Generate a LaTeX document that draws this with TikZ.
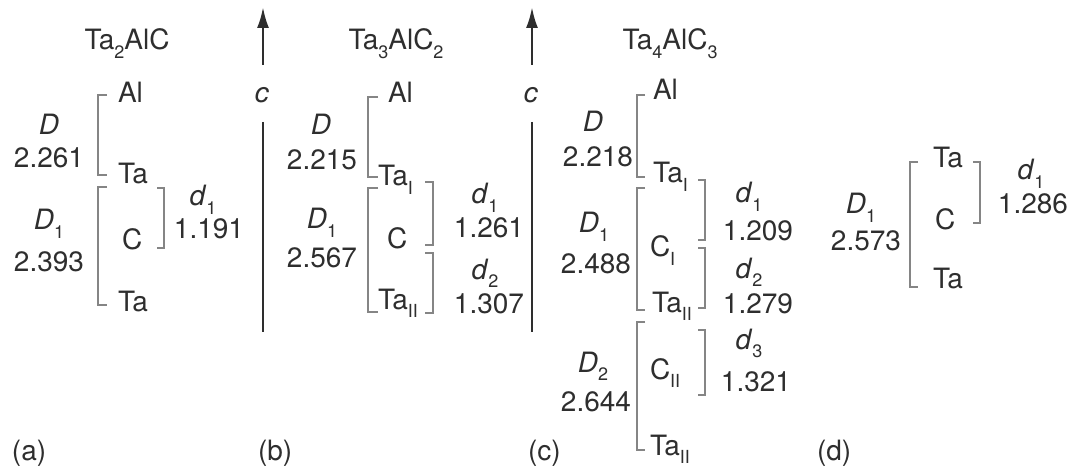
\documentclass[tikz,border=0pt]{standalone}
\usepackage{fontspec}
\setmainfont{TeX Gyre Heros}
\usetikzlibrary{arrows.meta}
\definecolor{ink}{HTML}{2E2E2E}
\definecolor{brk}{HTML}{858585}
% lowered small index for chemical formulas and site labels
\newcommand{\sbs}[1]{\raisebox{-0.30em}{\fontsize{18}{18}\selectfont #1}}
\begin{document}
\begin{tikzpicture}[x=1pt,y=-1pt,
  every node/.style={inner sep=0pt, outer sep=0pt, text=ink, font=\fontsize{28}{30}\selectfont},
  atom/.style={anchor=base west},
  lab/.style={anchor=base},
  num/.style={anchor=base east},
  bracket/.style={draw=brk, line width=2.3pt},
  axisline/.style={draw=ink, line width=2.6pt},
  axisarrow/.style={draw=ink, line width=2.6pt, -{Latex[length=21pt,width=12pt]}}]
\useasboundingbox (0,0) rectangle (1078,470);

% ---------- (a) Ta2AlC ----------
\node[lab] (titA) at (127,50) {Ta\sbs{2}AlC};
\node[atom] (aAl)  at (118,103) {Al};
\node[atom] (aTa1) at (118,184) {Ta};
\node[atom] (aC)   at (122,250) {C};
\node[atom] (aTa2) at (118,311) {Ta};
\node[lab] (aD)    at (49,135) {\textit{D}};
\node[num] (aDv)   at (84,168) {2.261};
\node[lab] (aD1)   at (49,230) {\textit{D}\sbs{1}};
\node[num] (aD1v)  at (84,272) {2.393};
\node[lab] (ad1)   at (203,206) {\textit{d}\sbs{1}};
\node[num] (ad1v)  at (244,239) {1.191};
\draw[bracket] (107,95) -- (98,95) -- (98,175) -- (107,175);
\draw[bracket] (107,187) -- (98,187) -- (98,305) -- (107,305);
\draw[bracket] (157,188) -- (164,188) -- (164,248) -- (157,248);

% ---------- c axis between (a) and (b) ----------
\node[lab] (cA) at (262,103) {\textit{c}};
\coordinate (cAtop) at (263,7);
\coordinate (cAbot) at (263,65);
\draw[axisarrow] (cAbot) -- (cAtop);
\coordinate (lAtop) at (263,122);
\coordinate (lAbot) at (263,332);
\draw[axisline] (lAtop) -- (lAbot);

% ---------- (b) Ta3AlC2 ----------
\node[lab] (titB) at (396,50) {Ta\sbs{3}AlC\sbs{2}};
\node[atom] (bAl)   at (388,103) {Al};
\node[atom] (bTa1)  at (378,186) {Ta\sbs{I}};
\node[atom] (bC)    at (387,248) {C};
\node[atom] (bTa2)  at (378,309) {Ta\sbs{II}};
\node[lab] (bD)     at (321,135) {\textit{D}};
\node[num] (bDv)    at (357,170) {2.215};
\node[lab] (bD1)    at (322,229) {\textit{D}\sbs{1}};
\node[num] (bD1v)   at (357,268) {2.567};
\node[lab] (bd1)    at (485,204) {\textit{d}\sbs{1}};
\node[num] (bd1v)   at (524,238) {1.261};
\node[lab] (bd2)    at (485,279) {\textit{d}\sbs{2}};
\node[num] (bd2v)   at (524,313) {1.307};
\draw[bracket] (378,97) -- (368,97) -- (368,177) -- (378,177);
\draw[bracket] (378,188) -- (368,188) -- (368,312) -- (378,312);
\draw[bracket] (425,182) -- (433,182) -- (433,245) -- (425,245);
\draw[bracket] (425,253) -- (433,253) -- (433,313) -- (425,313);

% ---------- c axis between (b) and (c) ----------
\node[lab] (cB) at (531,103) {\textit{c}};
\coordinate (cBtop) at (532,7);
\coordinate (cBbot) at (532,65);
\draw[axisarrow] (cBbot) -- (cBtop);
\coordinate (lBtop) at (532,122);
\coordinate (lBbot) at (532,332);
\draw[axisline] (lBtop) -- (lBbot);

% ---------- (c) Ta4AlC3 ----------
\node[lab] (titC) at (670,50) {Ta\sbs{4}AlC\sbs{3}};
\node[atom] (cAl)   at (653,100) {Al};
\node[atom] (cTa1)  at (653,183) {Ta\sbs{I}};
\node[atom] (cC1)   at (650,257) {C\sbs{I}};
\node[atom] (cTa2)  at (652,312) {Ta\sbs{II}};
\node[atom] (cC2)   at (650,379) {C\sbs{II}};
\node[atom] (cTa3)  at (650,455) {Ta\sbs{II}};
\node[lab] (cD)     at (593,132) {\textit{D}};
\node[num] (cDv)    at (633,167) {2.218};
\node[lab] (cD1)    at (594,233) {\textit{D}\sbs{1}};
\node[num] (cD1v)   at (631,273) {2.488};
\node[lab] (cD2)    at (593,372) {\textit{D}\sbs{2}};
\node[num] (cD2v)   at (631,411) {2.644};
\node[lab] (cd1)    at (749,203) {\textit{d}\sbs{1}};
\node[num] (cd1v)   at (793,241) {1.209};
\node[lab] (cd2)    at (749,278) {\textit{d}\sbs{2}};
\node[num] (cd2v)   at (793,313) {1.279};
\node[lab] (cd3)    at (749,349) {\textit{d}\sbs{3}};
\node[num] (cd3v)   at (791,391) {1.321};
\draw[bracket] (645,95) -- (637,95) -- (637,177) -- (645,177);
\draw[bracket] (645,188) -- (637,188) -- (637,310) -- (645,310);
\draw[bracket] (645,322) -- (637,322) -- (637,450) -- (645,450);
\draw[bracket] (698,180) -- (705,180) -- (705,240) -- (698,240);
\draw[bracket] (698,248) -- (705,248) -- (705,308) -- (698,308);
\draw[bracket] (698,330) -- (705,330) -- (705,395) -- (698,395);

% ---------- (d) ----------
\node[atom] (dTa1) at (933,168) {Ta};
\node[atom] (dC)   at (935,230) {C};
\node[atom] (dTa2) at (933,288) {Ta};
\node[lab] (dD1)   at (861,214) {\textit{D}\sbs{1}};
\node[num] (dD1v)  at (901,251) {2.573};
\node[lab] (dd1)   at (1031,180) {\textit{d}\sbs{1}};
\node[num] (dd1v)  at (1068,214) {1.286};
\draw[bracket] (918,162) -- (910,162) -- (910,287) -- (918,287);
\draw[bracket] (973,162) -- (980,162) -- (980,223) -- (973,223);

% ---------- panel letters ----------
\node[atom] (pa) at (12,460) {(a)};
\node[atom] (pb) at (258,460) {(b)};
\node[atom] (pc) at (528,460) {(c)};
\node[atom] (pd) at (817,460) {(d)};
\end{tikzpicture}
\end{document}
